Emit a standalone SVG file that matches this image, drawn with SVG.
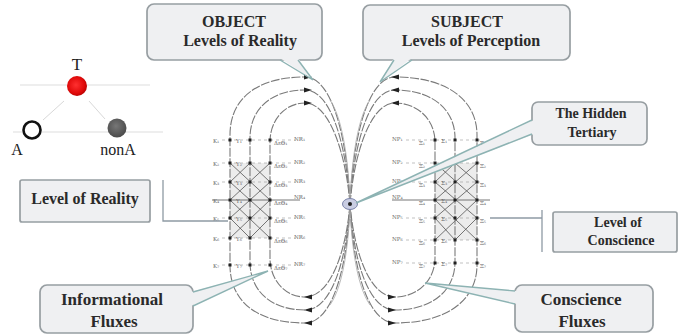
<svg xmlns="http://www.w3.org/2000/svg" width="679" height="335" viewBox="0 0 679 335">
<defs>
<style>
.box{fill:#eff0f2;stroke:#979ea2;stroke-width:1.7}
.wf{fill:#eff0f2;stroke:none}
.ws{fill:none;stroke:#8db3b3;stroke-width:1.4}
.ct{font-family:"Liberation Serif","Times New Roman",serif;font-weight:bold;fill:#2a2a2a;text-anchor:middle}
.loop{fill:none;stroke:#7a7a7a;stroke-width:1.1;stroke-dasharray:9 1.5}
.lat{stroke:#555;stroke-width:0.8;fill:none}
.row{stroke:#999;stroke-width:0.6;stroke-dasharray:3 3}
.gl{font-family:"DejaVu Serif","Liberation Serif",serif;font-size:5.5px;fill:#666}
.node{fill:#222}
.br{fill:none;stroke:#8e9aa4;stroke-width:1.3}
.tri{font-family:"Liberation Serif","Times New Roman",serif;fill:#222}
</style>
<radialGradient id="red" cx="0.45" cy="0.45" r="0.6">
<stop offset="0" stop-color="#ff3030"/><stop offset="0.7" stop-color="#e00a0a"/><stop offset="1" stop-color="#b00000"/>
</radialGradient>
<radialGradient id="gry" cx="0.45" cy="0.4" r="0.6">
<stop offset="0" stop-color="#777"/><stop offset="1" stop-color="#4a4a4a"/>
</radialGradient>
<path id="ah" d="M-4,-2.6 L4,0 L-4,2.6 Z" fill="#222"/>
</defs>
<rect width="679" height="335" fill="#fff"/>

<g id="triangle">
<line x1="20" y1="85" x2="150" y2="85" stroke="#ddd" stroke-width="1.2"/>
<line x1="13" y1="132" x2="163" y2="132" stroke="#ddd" stroke-width="1.2"/>
<line x1="64" y1="101" x2="43" y2="120" stroke="#d8d8d8" stroke-width="1"/>
<line x1="89" y1="101" x2="105" y2="119" stroke="#d8d8d8" stroke-width="1"/>
<circle cx="77" cy="86" r="10" fill="url(#red)"/>
<circle cx="32" cy="130" r="8.5" fill="#fff" stroke="#111" stroke-width="2.6"/>
<circle cx="117" cy="128" r="9.5" fill="url(#gry)"/>
<text class="tri" x="77" y="70" font-size="17" text-anchor="middle">T</text>
<text class="tri" x="17" y="155" font-size="16" text-anchor="middle">A</text>
<text class="tri" x="118" y="155" font-size="16" text-anchor="middle">nonA</text>
</g>

<g id="grids">
<rect x="230" y="163" width="40" height="75" fill="#ececec"/>
<rect x="435" y="163" width="42" height="77" fill="#ececec"/>
<g class="lat">
<line x1="230" y1="163" x2="270" y2="200"/><line x1="230" y1="182" x2="270" y2="218"/>
<line x1="230" y1="200" x2="270" y2="238"/><line x1="230" y1="218" x2="250" y2="238"/>
<line x1="250" y1="163" x2="270" y2="182"/>
<line x1="230" y1="200" x2="270" y2="163"/><line x1="230" y1="218" x2="270" y2="182"/>
<line x1="230" y1="238" x2="270" y2="200"/><line x1="250" y1="238" x2="270" y2="218"/>
<line x1="230" y1="182" x2="250" y2="163"/>
<line x1="435" y1="163" x2="477" y2="200"/><line x1="435" y1="182" x2="477" y2="218"/>
<line x1="435" y1="200" x2="477" y2="240"/><line x1="435" y1="218" x2="455" y2="240"/>
<line x1="455" y1="163" x2="477" y2="182"/>
<line x1="435" y1="200" x2="477" y2="163"/><line x1="435" y1="218" x2="477" y2="182"/>
<line x1="435" y1="240" x2="477" y2="200"/><line x1="455" y1="240" x2="477" y2="218"/>
<line x1="435" y1="182" x2="455" y2="163"/>
</g>
<g>
<line class="row" x1="222" y1="140" x2="296" y2="140"/>
<line class="row" x1="222" y1="163" x2="296" y2="163"/>
<line class="row" x1="222" y1="182" x2="296" y2="182"/>
<line x1="212" y1="200" x2="300" y2="200" stroke="#666" stroke-width="0.9"/>
<line class="row" x1="222" y1="218" x2="296" y2="218"/>
<line class="row" x1="222" y1="238" x2="296" y2="238"/>
<line class="row" x1="222" y1="265" x2="296" y2="265"/>
<line class="row" x1="406" y1="140" x2="480" y2="140"/>
<line class="row" x1="406" y1="163" x2="480" y2="163"/>
<line class="row" x1="406" y1="182" x2="480" y2="182"/>
<line x1="392" y1="200" x2="490" y2="200" stroke="#666" stroke-width="0.9"/>
<line class="row" x1="406" y1="218" x2="480" y2="218"/>
<line class="row" x1="406" y1="240" x2="480" y2="240"/>
<line class="row" x1="406" y1="263" x2="480" y2="263"/>
</g>
</g>

<g id="connectors">
<path class="loop" d="M350,204 C348,150 335,77 305,77 C255,77 230,100 230,135 L230,265 C230,300 255,323 305,323 C335,323 348,258 350,204"/>
<path class="loop" d="M350,204 C347,152 333,90 305,90 C270,90 250,110 250,138 L250,262 C250,290 270,310 305,310 C333,310 347,256 350,204"/>
<path class="loop" d="M350,204 C346,155 330,103 305,103 C285,103 270,120 270,142 L270,258 C270,280 285,297 305,297 C330,297 346,253 350,204"/>
<path class="loop" d="M350,204 C352,150 365,77 395,77 C447,77 477,100 477,135 L477,265 C477,300 447,323 395,323 C365,323 352,258 350,204"/>
<path class="loop" d="M350,204 C353,152 367,90 395,90 C433,90 455,110 455,138 L455,262 C455,290 433,310 395,310 C367,310 353,256 350,204"/>
<path class="loop" d="M350,204 C354,155 370,103 395,103 C418,103 435,120 435,142 L435,258 C435,280 418,297 395,297 C370,297 354,253 350,204"/>
<path d="M350,204 C349,170 344,120 330,100 M350,204 C351,170 356,120 370,100 M350,204 C349,240 344,285 330,305 M350,204 C351,240 356,285 370,305" fill="none" stroke="#aaa" stroke-width="0.8"/>
<use href="#ah" transform="translate(308,77)"/>
<use href="#ah" transform="translate(308,90)"/>
<use href="#ah" transform="translate(308,103)"/>
<use href="#ah" transform="translate(308,297) rotate(180)"/>
<use href="#ah" transform="translate(308,310) rotate(180)"/>
<use href="#ah" transform="translate(308,323) rotate(180)"/>
<use href="#ah" transform="translate(395,77) rotate(180)"/>
<use href="#ah" transform="translate(395,90) rotate(180)"/>
<use href="#ah" transform="translate(395,103) rotate(180)"/>
<use href="#ah" transform="translate(392,297)"/>
<use href="#ah" transform="translate(392,310)"/>
<use href="#ah" transform="translate(392,323)"/>
</g>

<g id="left-grid">
<g class="node">
<rect x="228.5" y="138.5" width="3" height="3"/><rect x="248.5" y="138.5" width="3" height="3"/><rect x="268.5" y="138.5" width="3" height="3"/>
<rect x="228.5" y="161.5" width="3" height="3"/><rect x="248.5" y="161.5" width="3" height="3"/><rect x="268.5" y="161.5" width="3" height="3"/>
<rect x="228.5" y="180.5" width="3" height="3"/><rect x="248.5" y="180.5" width="3" height="3"/><rect x="268.5" y="180.5" width="3" height="3"/>
<rect x="228.5" y="198.5" width="3" height="3"/><rect x="248.5" y="198.5" width="3" height="3"/><rect x="268.5" y="198.5" width="3" height="3"/>
<rect x="228.5" y="216.5" width="3" height="3"/><rect x="248.5" y="216.5" width="3" height="3"/><rect x="268.5" y="216.5" width="3" height="3"/>
<rect x="228.5" y="236.5" width="3" height="3"/><rect x="248.5" y="236.5" width="3" height="3"/><rect x="268.5" y="236.5" width="3" height="3"/>
<rect x="228.5" y="263.5" width="3" height="3"/><rect x="248.5" y="263.5" width="3" height="3"/><rect x="268.5" y="263.5" width="3" height="3"/>
</g>
<g class="gl">
<text x="213" y="143">K₁</text><text x="236" y="143">Y₁</text><text x="274" y="145">ΔεΘ₁</text><text x="294" y="141">NR₁</text>
<text x="213" y="166">K₂</text><text x="236" y="166">Y₂</text><text x="274" y="168">ΔεΘ₂</text><text x="294" y="164">NR₂</text>
<text x="213" y="185">K₃</text><text x="236" y="185">Y₃</text><text x="274" y="187">ΔεΘ₃</text><text x="294" y="183">NR₃</text>
<text x="213" y="203">K₄</text><text x="236" y="203">Y₄</text><text x="274" y="205">ΔεΘ₄</text><text x="294" y="199">NR₄</text>
<text x="213" y="221">K₅</text><text x="236" y="221">Y₅</text><text x="274" y="223">ΔεΘ₅</text><text x="294" y="219">NR₅</text>
<text x="213" y="241">K₆</text><text x="236" y="241">Y₆</text><text x="274" y="243">ΔεΘ₆</text><text x="294" y="239">NR₆</text>
<text x="213" y="268">K₇</text><text x="236" y="268">Y₇</text><text x="274" y="270">ΔεΘ₇</text><text x="294" y="266">NR₇</text>
</g>
</g>
<g id="right-grid">
<g class="node">
<rect x="433.5" y="138.5" width="3" height="3"/><rect x="453.5" y="138.5" width="3" height="3"/><rect x="475.5" y="138.5" width="3" height="3"/>
<rect x="433.5" y="161.5" width="3" height="3"/><rect x="453.5" y="161.5" width="3" height="3"/><rect x="475.5" y="161.5" width="3" height="3"/>
<rect x="433.5" y="180.5" width="3" height="3"/><rect x="453.5" y="180.5" width="3" height="3"/><rect x="475.5" y="180.5" width="3" height="3"/>
<rect x="433.5" y="198.5" width="3" height="3"/><rect x="453.5" y="198.5" width="3" height="3"/><rect x="475.5" y="198.5" width="3" height="3"/>
<rect x="433.5" y="216.5" width="3" height="3"/><rect x="453.5" y="216.5" width="3" height="3"/><rect x="475.5" y="216.5" width="3" height="3"/>
<rect x="433.5" y="238.5" width="3" height="3"/><rect x="453.5" y="238.5" width="3" height="3"/><rect x="475.5" y="238.5" width="3" height="3"/>
<rect x="433.5" y="261.5" width="3" height="3"/><rect x="453.5" y="261.5" width="3" height="3"/><rect x="475.5" y="261.5" width="3" height="3"/>
</g>
<g class="gl">
<text x="392" y="141">NP₁</text><text x="419" y="145">Ξ₁</text><text x="441" y="143">Σ₁</text><text x="480" y="145">Ξ₁</text>
<text x="392" y="164">NP₂</text><text x="419" y="168">Ξ₂</text><text x="441" y="166">Σ₂</text><text x="480" y="168">Ξ₂</text>
<text x="392" y="183">NP₃</text><text x="419" y="187">Ξ₃</text><text x="441" y="185">Σ₃</text><text x="480" y="187">Ξ₃</text>
<text x="392" y="199">NP₄</text><text x="419" y="205">Ξ₄</text><text x="441" y="203">Σ₄</text><text x="480" y="205">Ξ₄</text>
<text x="392" y="219">NP₅</text><text x="419" y="223">Ξ₅</text><text x="441" y="221">Σ₅</text><text x="480" y="223">Ξ₅</text>
<text x="392" y="241">NP₆</text><text x="419" y="245">Ξ₆</text><text x="441" y="243">Σ₆</text><text x="480" y="245">Ξ₆</text>
<text x="392" y="264">NP₇</text><text x="419" y="268">Ξ₇</text><text x="441" y="266">Σ₇</text><text x="480" y="268">Ξ₇</text>
</g>
</g>

<g id="center">
<ellipse cx="350" cy="204" rx="7.5" ry="5.5" fill="#c9cde2" stroke="#7c84aa" stroke-width="1"/>
<circle cx="350" cy="204" r="2" fill="#222"/>
</g>

<g id="object">
<rect class="box" x="147" y="4" width="175" height="56" rx="7"/>
<polygon class="wf" points="280,58 298,58 313,80"/>
<polyline class="ws" points="280,60 313,80 298,60"/>
<text class="ct" x="234" y="27" font-size="16">OBJECT</text>
<text class="ct" x="240" y="46" font-size="16">Levels of Reality</text>
</g>
<g id="subject">
<rect class="box" x="363" y="5" width="207" height="55" rx="7"/>
<polygon class="wf" points="394,58 412,58 380,82"/>
<polyline class="ws" points="394,60 380,82 412,60"/>
<text class="ct" x="467" y="27" font-size="16">SUBJECT</text>
<text class="ct" x="471" y="46" font-size="16">Levels of Perception</text>
</g>
<g id="hidden-tertiary">
<rect class="box" x="532" y="102" width="115" height="43" rx="6"/>
<polygon class="wf" points="534,120 534,134 356,203"/>
<polyline class="ws" points="532,120 356,203 532,134"/>
<text class="ct" x="591" y="118" font-size="14">The Hidden</text>
<text class="ct" x="592" y="137" font-size="14">Tertiary</text>
</g>
<g id="level-of-reality">
<rect class="box" x="20" y="180" width="130" height="42" rx="2"/>
<polyline class="br" points="163,180 163,221 228,221"/>
<text class="ct" x="85" y="204" font-size="16">Level of Reality</text>
</g>
<g id="informational-fluxes">
<rect class="box" x="40" y="285" width="153" height="48" rx="7"/>
<polygon class="wf" points="191,292 191,306 268,271"/>
<polyline class="ws" points="193,292 268,271 193,306"/>
<text class="ct" x="112" y="305" font-size="17">Informational</text>
<text class="ct" x="114" y="327" font-size="17">Fluxes</text>
</g>
<g id="level-of-conscience">
<rect class="box" x="553" y="212" width="124" height="40" rx="2"/>
<line class="br" x1="542" y1="210" x2="542" y2="252"/>
<line class="br" x1="490" y1="218" x2="542" y2="218"/>
<text class="ct" x="618" y="227" font-size="14">Level of</text>
<text class="ct" x="621" y="245" font-size="14">Conscience</text>
</g>
<g id="conscience-fluxes">
<rect class="box" x="515" y="285" width="138" height="47" rx="7"/>
<polygon class="wf" points="517,291 517,304 425,283"/>
<polyline class="ws" points="515,291 425,283 515,304"/>
<text class="ct" x="581" y="305" font-size="17">Conscience</text>
<text class="ct" x="582" y="327" font-size="17">Fluxes</text>
</g>
</svg>
